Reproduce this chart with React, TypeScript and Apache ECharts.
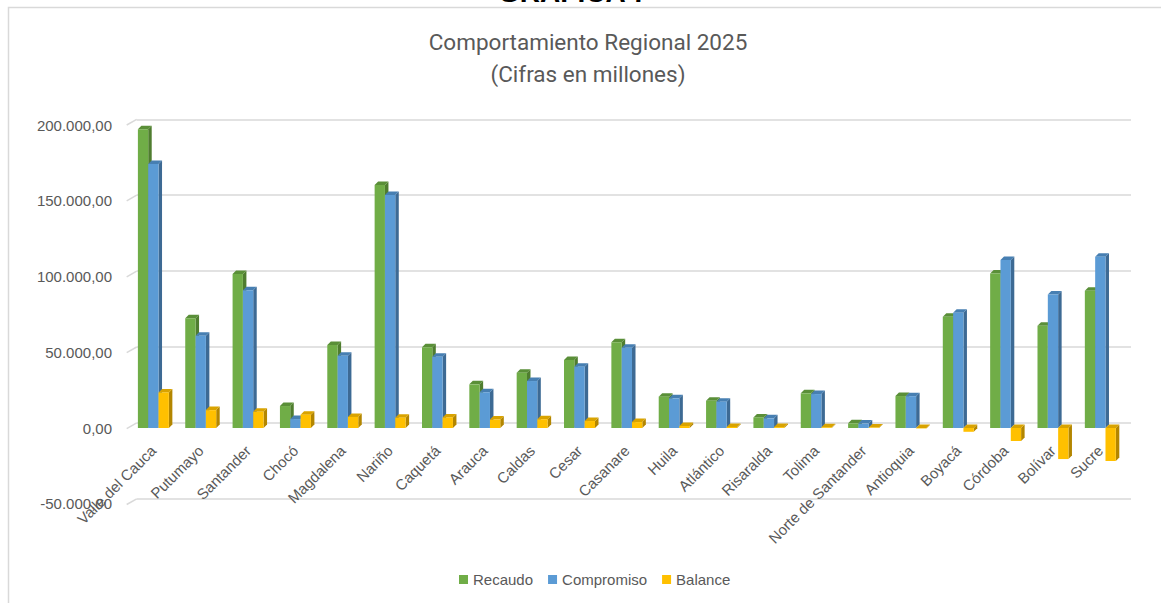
import React, { useEffect, useRef } from "react";
import * as echarts from "echarts";

const categories = [
  "Valle del Cauca", "Putumayo", "Santander", "Chocó", "Magdalena", "Nariño", "Caquetá",
  "Arauca", "Caldas", "Cesar", "Casanare", "Huila", "Atlántico", "Risaralda", "Tolima",
  "Norte de Santander", "Antioquia", "Boyacá", "Córdoba", "Bolívar", "Sucre",
];
const recaudo = [197200, 72400, 101600, 14500, 54800, 160400, 53300, 28800, 36500, 44900, 56600, 20700, 18000, 7000, 22900, 3100, 21100, 73500, 102000, 67500, 90600];
const compromiso = [174300, 60900, 91000, 5900, 47700, 153800, 47000, 23600, 31000, 40500, 53000, 19600, 17400, 6400, 22400, 2900, 21000, 76100, 110900, 88200, 113000];
const balance = [23500, 11800, 10800, 8800, 7300, 6800, 7000, 5600, 5800, 4600, 3900, 1300, 700, 600, 500, 300, -300, -2500, -8600, -20500, -21800];
const yTicks = [-50000, 0, 50000, 100000, 150000, 200000];
const seriesNames = ["Recaudo", "Compromiso", "Balance"];

const palette = [
  { front: "#70AD47", side: "#4F7D2F", top: "#5A8F38" },
  { front: "#5B9BD5", side: "#3D6A94", top: "#477FB2" },
  { front: "#FFC000", side: "#B38600", top: "#D9A300" },
];

const FONT = "'Liberation Sans', Arial, sans-serif";
const GRAY = "#595959";

function fmt(v: number): string {
  const neg = v < 0;
  const s = Math.abs(Math.round(v)).toString();
  const withDots = s.replace(/\B(?=(\d{3})+(?!\d))/g, ".");
  return (neg ? "-" : "") + withDots + ",00";
}

function makeBarRender(idx: number) {
  const c = palette[idx];
  return (params: any, api: any) => {
    const i = api.value(0);
    const v = api.value(1);
    const base = api.coord([i, 0]);
    const tip = api.coord([i, v]);
    const bandW = api.size([1, 0])[0];
    const w = bandW * 0.218;
    const d = 3.5;
    const x0 = base[0] - 1.5 * w + idx * w;
    const yTop = Math.min(base[1], tip[1]);
    const yBot = Math.max(base[1], tip[1]);
    return {
      type: "group",
      children: [
        {
          type: "polygon",
          shape: { points: [[x0 + w, yTop], [x0 + w + d, yTop - d], [x0 + w + d, yBot - d], [x0 + w, yBot]] },
          style: { fill: c.side },
        },
        {
          type: "polygon",
          shape: { points: [[x0, yTop], [x0 + d, yTop - d], [x0 + w + d, yTop - d], [x0 + w, yTop]] },
          style: { fill: c.top },
        },
        {
          type: "rect",
          shape: { x: x0, y: yTop, width: w, height: Math.max(yBot - yTop, 0.01) },
          style: { fill: c.front },
        },
      ],
    };
  };
}

export default function App() {
  const ref = useRef<HTMLDivElement>(null);
  useEffect(() => {
    if (!ref.current) return;
    const chart = echarts.init(ref.current, null, { renderer: "svg" });
    const seriesData = [recaudo, compromiso, balance];
    const option: any = {
      animation: false,
      backgroundColor: "#ffffff",
      textStyle: { fontFamily: FONT },
      legend: {
        top: 567,
        left: 454,
        itemWidth: 9,
        itemHeight: 9,
        itemGap: 15,
        textStyle: { fontFamily: FONT, fontSize: 15, color: GRAY },
        data: seriesNames.map((n) => ({ name: n, icon: "rect" })),
      },
      graphic: [
        {
          type: "text",
          x: 573,
          y: 6,
          style: { text: "GRÁFICA 7", fontFamily: FONT, fontSize: 28, fontWeight: "bold", fill: "#000", align: "center", verticalAlign: "bottom" },
        },
        {
          type: "rect",
          shape: { x: 8.5, y: 7.5, width: 1300, height: 800 },
          style: { fill: "none", stroke: "#d9d9d9", lineWidth: 1.5 },
        },
        {
          type: "text",
          x: 588,
          y: 42,
          style: { text: "Comportamiento Regional 2025", fontFamily: "Roboto, sans-serif", fontSize: 22.5, fill: GRAY, align: "center", verticalAlign: "middle" },
        },
        {
          type: "text",
          x: 588,
          y: 74,
          style: { text: "(Cifras en millones)", fontFamily: "Roboto, sans-serif", fontSize: 22.5, fill: GRAY, align: "center", verticalAlign: "middle" },
        },
      ],
      grid: [
        { left: 136.7, top: 119.3, width: 994.3, height: 379.5, outerBoundsMode: "none", containLabel: false },
        { left: 129.7, top: 125, width: 994.3, height: 378.75, outerBoundsMode: "none", containLabel: false },
        { left: 129.7, top: 125, width: 994.3, height: 303, outerBoundsMode: "none", containLabel: false },
      ],
      xAxis: [
        { type: "category", gridIndex: 0, data: categories, show: false },
        { type: "category", gridIndex: 1, data: categories, show: false },
        {
          type: "category",
          gridIndex: 2,
          data: categories,
          axisLine: { show: false },
          axisTick: { show: false },
          axisLabel: { interval: 0, rotate: 45, margin: 20, fontSize: 15, color: GRAY, fontFamily: FONT },
        },
      ],
      yAxis: [
        {
          type: "value",
          gridIndex: 0,
          min: -50000,
          max: 200000,
          interval: 50000,
          axisLabel: { show: false },
          axisLine: { show: false },
          axisTick: { show: false },
          splitLine: { lineStyle: { color: "#d9d9d9", width: 1.5 } },
        },
        {
          type: "value",
          gridIndex: 1,
          min: -50000,
          max: 200000,
          interval: 50000,
          axisLine: { show: false },
          axisTick: { show: false },
          splitLine: { show: false },
          axisLabel: { margin: 17.7, fontSize: 15, color: GRAY, fontFamily: FONT, formatter: (v: number) => fmt(v), padding: [8, 0, 0, 0] },
        },
        {
          type: "value",
          gridIndex: 2,
          min: 0,
          max: 200000,
          show: false,
        },
      ],
      series: [
        {
          type: "custom",
          name: "floorStubs",
          xAxisIndex: 0,
          yAxisIndex: 0,
          silent: true,
          data: yTicks.map((v) => [0, v]),
          renderItem: (params: any, api: any) => {
            const p = api.coord([0, api.value(1)]);
            const left = params.coordSys.x;
            return {
              type: "line",
              shape: { x1: left - 10, y1: p[1] + 5.7, x2: left, y2: p[1] },
              style: { stroke: "#d9d9d9", lineWidth: 1.5 },
            };
          },
        },
        ...seriesNames.map((name, idx) => ({
          type: "custom",
          name,
          xAxisIndex: 1,
          yAxisIndex: 1,
          itemStyle: { color: palette[idx].front },
          data: seriesData[idx].map((v, i) => [i, v]),
          renderItem: makeBarRender(idx),
        })),
      ],
    };
    chart.setOption(option);
    return () => chart.dispose();
  }, []);
  return <div ref={ref} style={{ position: "fixed", left: 0, top: 0, width: 1161, height: 603 }} />;
}
